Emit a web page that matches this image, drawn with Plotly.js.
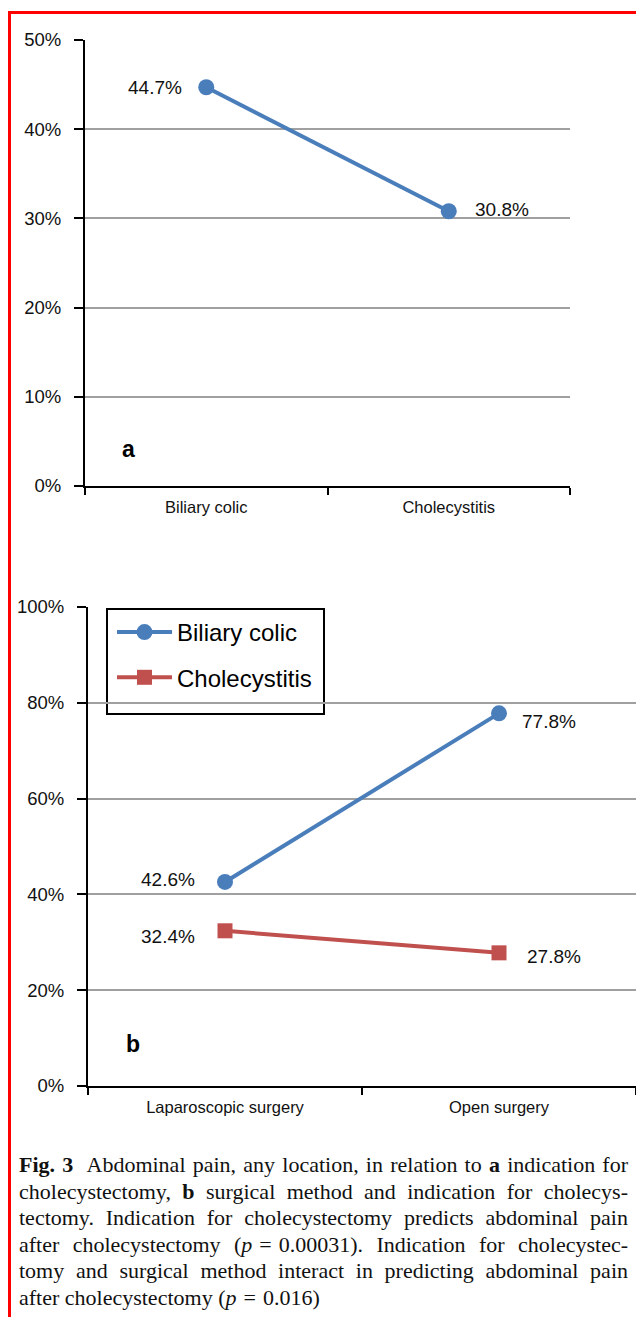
<!DOCTYPE html>
<html>
<head>
<meta charset="utf-8">
<script src="https://cdn.plot.ly/plotly-3.0.1.min.js"></script>
<style>
  html, body { margin: 0; padding: 0; background: #fff; }
  #wrap { position: relative; width: 636px; height: 1317px; overflow: hidden; }
  #chart { position: absolute; left: 0; top: 0; width: 636px; height: 1317px; }
  #frame { position: absolute; left: 8px; top: 11px; width: 640px; height: 1320px;
           border-left: 3px solid #ff0000; border-top: 3px solid #ff0000; pointer-events: none; }
  #caption { position: absolute; left: 19px; top: 1152px; width: 609px;
             font-family: "Liberation Serif", "Times New Roman", serif; font-size: 22px;
             line-height: 26.5px; color: #111; }
  #caption .l { white-space: nowrap; text-align: justify; text-align-last: justify; }
  #caption .last { white-space: nowrap; text-align: left; }
  #caption .eq { padding: 0 7px; }
</style>
</head>
<body>
<div id="wrap">
  <div id="chart"></div>
  <div id="frame"></div>
  <div id="caption">
    <div class="l"><b>Fig. 3</b>&nbsp; Abdominal pain, any location, in relation to <b>a</b> indication for</div>
    <div class="l">cholecystectomy, <b>b</b> surgical method and indication for cholecys-</div>
    <div class="l">tectomy. Indication for cholecystectomy predicts abdominal pain</div>
    <div class="l">after cholecystectomy (<i>p</i><span class="eq">=</span>0.00031). Indication for cholecystec-</div>
    <div class="l">tomy and surgical method interact in predicting abdominal pain</div>
    <div class="last">after cholecystectomy (<i>p</i><span class="eq">=</span>0.016)</div>
  </div>
</div>
<script>
// ---- Data ----
const categoriesA = ['Biliary colic', 'Cholecystitis'];
const valuesA = [0.447, 0.308];

const categoriesB = ['Laparoscopic surgery', 'Open surgery'];
const seriesNamesB = ['Biliary colic', 'Cholecystitis'];
const biliaryColicB = [0.426, 0.778];
const cholecystitisB = [0.324, 0.278];

const panelLetters = ['a', 'b'];

// ---- Styles ----
const BLUE = '#4a7ebb';
const RED = '#c0504d';
const W = 636, H = 1317;
const px = v => v / W;
const py = v => 1 - v / H;
const sans = 'Liberation Sans, Arial, sans-serif';

const traces = [
  { x: categoriesA, y: valuesA, xaxis: 'x', yaxis: 'y', type: 'scatter', mode: 'lines+markers',
    name: seriesNamesB[0], showlegend: false,
    line: { color: BLUE, width: 4 }, marker: { color: BLUE, size: 16, symbol: 'circle' } },
  { x: categoriesB, y: biliaryColicB, xaxis: 'x2', yaxis: 'y2', type: 'scatter', mode: 'lines+markers',
    name: seriesNamesB[0], legendgroup: 'g1',
    line: { color: BLUE, width: 4 }, marker: { color: BLUE, size: 16, symbol: 'circle' } },
  { x: categoriesB, y: cholecystitisB, xaxis: 'x2', yaxis: 'y2', type: 'scatter', mode: 'lines+markers',
    name: seriesNamesB[1], legendgroup: 'g2',
    line: { color: RED, width: 4 }, marker: { color: RED, size: 15, symbol: 'square' } }
];

const pct = v => (v * 100).toFixed(1) + '%';
const annotations = [];
function addLabels(cats, vals, xr, yr, shifts) {
  vals.forEach((v, i) => {
    const left = i === 0;
    annotations.push({
      x: cats[i], y: v, xref: xr, yref: yr, text: pct(v), showarrow: false,
      xanchor: left ? 'right' : 'left', yanchor: 'middle',
      xshift: shifts[i][0], yshift: shifts[i][1],
      font: { family: sans, size: 19, color: '#111' }
    });
  });
}
addLabels(categoriesA, valuesA, 'x', 'y', [[-22, 0], [24, 2]]);
addLabels(categoriesB, biliaryColicB, 'x2', 'y2', [[-28, 2], [21, -8]]);
addLabels(categoriesB, cholecystitisB, 'x2', 'y2', [[-28, -6], [26, -4]]);

annotations.push({ x: px(128), y: py(449), xref: 'paper', yref: 'paper', text: '<b>' + panelLetters[0] + '</b>',
  showarrow: false, xanchor: 'center', yanchor: 'middle', font: { family: sans, size: 23, color: '#000' } });
annotations.push({ x: px(133), y: py(1044), xref: 'paper', yref: 'paper', text: '<b>' + panelLetters[1] + '</b>',
  showarrow: false, xanchor: 'center', yanchor: 'middle', font: { family: sans, size: 23, color: '#000' } });

const xBase = {
  type: 'category', range: [-0.5, 1.5], showline: true, linecolor: '#000', linewidth: 2,
  ticks: 'outside', tickson: 'boundaries', ticklen: 7, tickwidth: 2, tickcolor: '#000',
  showgrid: false, zeroline: false, fixedrange: true, ticklabelstandoff: 5,
  tickfont: { family: sans, size: 16.5, color: '#111' }
};
const yBase = {
  showline: true, linecolor: '#000', linewidth: 2, ticks: 'outside', ticklen: 9, tickwidth: 2,
  tickcolor: '#000', showgrid: true, gridcolor: '#a0a0a0', gridwidth: 2, zeroline: false,
  tickformat: '.0%', fixedrange: true, ticklabelstandoff: 9,
  tickfont: { family: sans, size: 18.5, color: '#111' }
};

const layout = {
  width: W, height: H, margin: { l: 0, r: 0, t: 0, b: 0 },
  paper_bgcolor: '#fff', plot_bgcolor: 'rgba(0,0,0,0)', showlegend: true,
  xaxis: Object.assign({}, xBase, { domain: [px(85), px(570)], anchor: 'y' }),
  yaxis: Object.assign({}, yBase, { domain: [py(486), py(40)], anchor: 'x', range: [0, 0.5], dtick: 0.1 }),
  xaxis2: Object.assign({}, xBase, { domain: [px(88), 1], anchor: 'y2' }),
  yaxis2: Object.assign({}, yBase, { domain: [py(1086), py(607)], anchor: 'x2', range: [0, 1], dtick: 0.2 }),
  legend: {
    x: px(112), y: py(610), xanchor: 'left', yanchor: 'top', bgcolor: 'rgba(0,0,0,0)',
    borderwidth: 0, font: { family: sans, size: 24, color: '#000' }, tracegroupgap: 11,
    itemwidth: 55, traceorder: 'grouped'
  },
  shapes: [
    { type: 'rect', xref: 'paper', yref: 'paper', x0: px(107), x1: px(324), y0: py(714), y1: py(609),
      line: { color: '#000', width: 2 }, fillcolor: '#fff', layer: 'below' }
  ],
  annotations: annotations
};

Plotly.newPlot('chart', traces, layout, { displayModeBar: false, staticPlot: true });
</script>
</body>
</html>
